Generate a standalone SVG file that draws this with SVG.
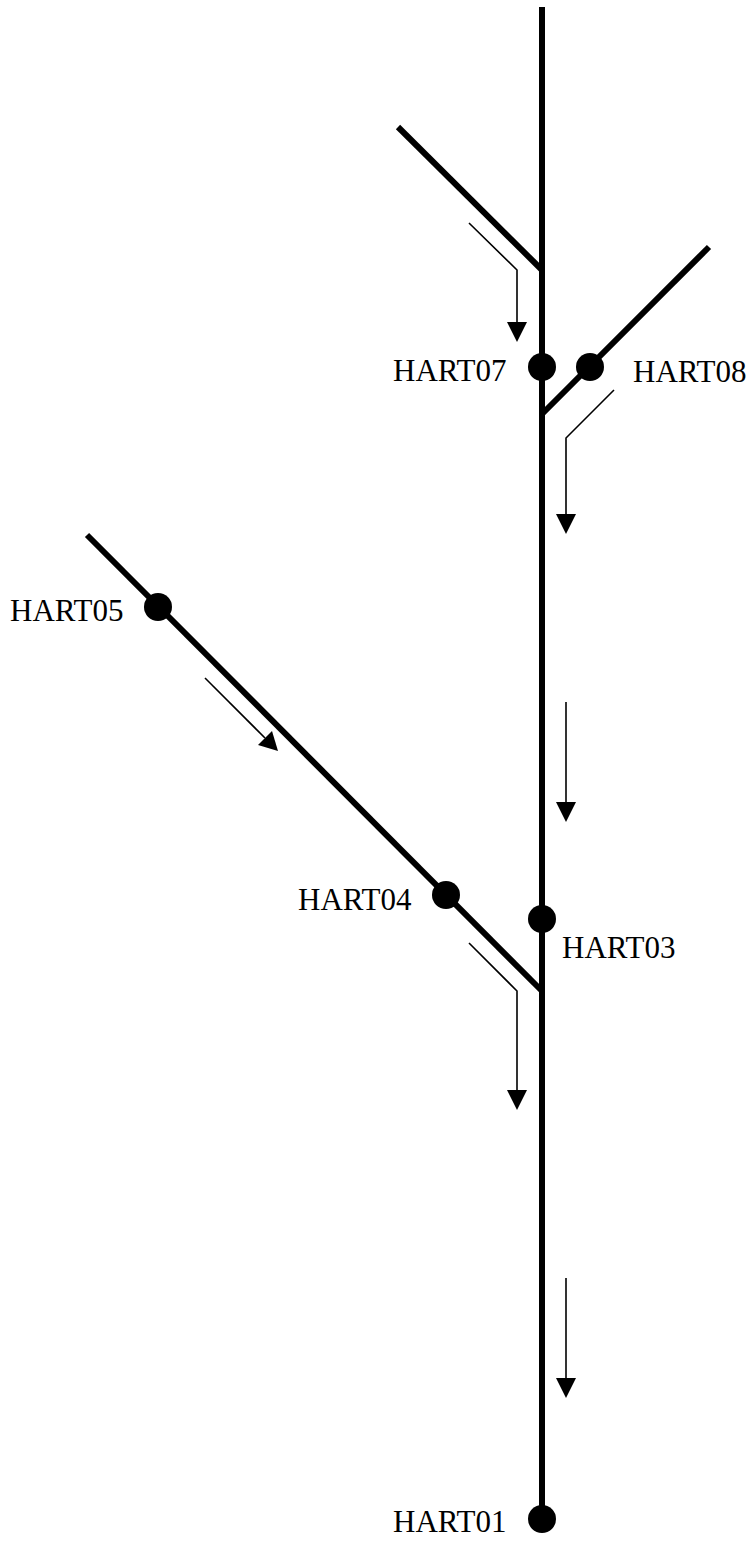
<svg xmlns="http://www.w3.org/2000/svg" width="755" height="1543" viewBox="0 0 755 1543">
<style>
.pipe{stroke:#000;stroke-width:6;fill:none;stroke-linecap:butt}
.flow{stroke:#000;stroke-width:1.6;fill:none}
.node{fill:#000}
.lbl{font-family:"Liberation Serif","Times New Roman",serif;font-size:31px;fill:#000}
.head{fill:#000}
</style>
<rect width="755" height="1543" fill="#fff"/>
<g id="connectors">
<line class="pipe" x1="542" y1="7" x2="542" y2="1519"/>
<line class="pipe" x1="398" y1="127" x2="542" y2="270"/>
<line class="pipe" x1="709" y1="247" x2="542" y2="414"/>
<line class="pipe" x1="87" y1="535" x2="542" y2="991"/>
<polyline class="flow" points="469,223 517,270 517,322"/>
<polygon class="head" points="507,322 527,322 517,342"/>
<polyline class="flow" points="614,390 566,438 566,514"/>
<polygon class="head" points="556,514 576,514 566,534"/>
<line class="flow" x1="566" y1="702" x2="566" y2="802"/>
<polygon class="head" points="556,802 576,802 566,822"/>
<line class="flow" x1="205" y1="678" x2="265" y2="738"/>
<polygon class="head" points="258,745 272,731 278,751"/>
<polyline class="flow" points="469,943 517,991 517,1090"/>
<polygon class="head" points="507,1090 527,1090 517,1110"/>
<line class="flow" x1="566" y1="1278" x2="566" y2="1378"/>
<polygon class="head" points="556,1378 576,1378 566,1398"/>
</g>
<g id="HART07"><circle class="node" cx="542" cy="367" r="14"/><text class="lbl" x="393" y="381">HART07</text></g>
<g id="HART08"><circle class="node" cx="590" cy="367" r="14"/><text class="lbl" x="633" y="382">HART08</text></g>
<g id="HART05"><circle class="node" cx="158" cy="607" r="14"/><text class="lbl" x="10" y="621">HART05</text></g>
<g id="HART04"><circle class="node" cx="446" cy="895" r="14"/><text class="lbl" x="298" y="910">HART04</text></g>
<g id="HART03"><circle class="node" cx="542" cy="919" r="14"/><text class="lbl" x="562" y="958">HART03</text></g>
<g id="HART01"><circle class="node" cx="542" cy="1519" r="14"/><text class="lbl" x="393" y="1532">HART01</text></g>
</svg>
